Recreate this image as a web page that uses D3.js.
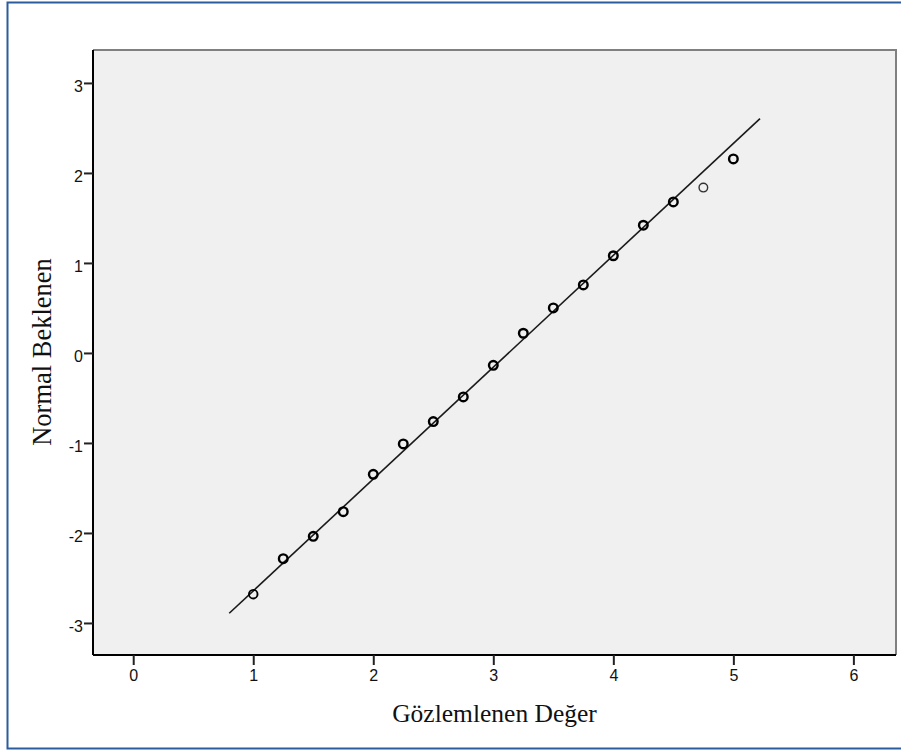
<!DOCTYPE html>
<html>
<head>
<meta charset="utf-8">
<script src="https://cdn.jsdelivr.net/npm/d3@7"></script>
<style>
  html, body { margin: 0; padding: 0; background: #ffffff; }
  svg { display: block; }
</style>
</head>
<body>
<svg id="chart" width="901" height="753"></svg>
<script>
// Observed values and their expected normal scores
const observed = [1, 1.25, 1.5, 1.75, 2, 2.25, 2.5, 2.75, 3, 3.25, 3.5, 3.75, 4, 4.25, 4.5, 4.75, 5];
const expected = [-2.68, -2.286, -2.037, -1.763, -1.348, -1.011, -0.763, -0.489, -0.137, 0.219, 0.5, 0.756, 1.08, 1.419, 1.678, 1.837, 2.156];
// Number of cases stacked on each point
const caseCount = [2, 3, 3, 3, 3, 3, 3, 3, 3, 3, 3, 3, 3, 3, 3, 1, 3];

// Reference line endpoints
const lineX = [0.8, 5.222];
const lineY = [-2.892, 2.603];

const xTicks = [0, 1, 2, 3, 4, 5, 6];
const yTicks = [-3, -2, -1, 0, 1, 2, 3];

const xTitle = "Gözlemlenen Değer";
const yTitle = "Normal Beklenen";

const svg = d3.select("#chart");
const plot = { left: 93, top: 50, right: 896, bottom: 655 };

const x = d3.scaleLinear().domain([-0.335, 6.355]).range([plot.left, plot.right]);
const y = d3.scaleLinear().domain([-3.356, 3.366]).range([plot.bottom, plot.top]);

// Outer frame
svg.append("rect")
  .attr("x", 7.5).attr("y", 2.5)
  .attr("width", 910).attr("height", 746)
  .attr("fill", "none")
  .attr("stroke", "#2c5c9c")
  .attr("stroke-width", 2);

// Plot background
svg.append("rect")
  .attr("x", plot.left).attr("y", plot.top)
  .attr("width", plot.right - plot.left).attr("height", plot.bottom - plot.top)
  .attr("fill", "#f0f0f0");

// Top and right frame edges
svg.append("path")
  .attr("d", `M${plot.left},${plot.top} H${plot.right} V${plot.bottom}`)
  .attr("fill", "none")
  .attr("stroke", "#808080")
  .attr("stroke-width", 2);

// Axes (plain hyphen for negative labels)
const fmt = d => String(d);
const xAxis = d3.axisBottom(x).tickValues(xTicks).tickSize(10).tickSizeOuter(0).tickFormat(fmt);
const yAxis = d3.axisLeft(y).tickValues(yTicks).tickSize(9).tickSizeOuter(0).tickFormat(fmt);

const gx = svg.append("g").attr("transform", `translate(0,${plot.bottom})`).call(xAxis);
const gy = svg.append("g").attr("transform", `translate(${plot.left},0)`).call(yAxis);

[gx, gy].forEach(g => {
  g.select(".domain").attr("stroke", "#000").attr("stroke-width", 2);
  g.selectAll(".tick line").attr("stroke", "#222").attr("stroke-width", 2);
  g.selectAll(".tick text")
    .attr("fill", "#111")
    .style("font-family", "'Liberation Sans', Arial, sans-serif")
    .style("font-size", "16px");
});
gx.select(".domain").attr("d", `M${plot.left},0H${plot.right}`);
gy.select(".domain").attr("d", `M0,${plot.top}V${plot.bottom}`);
gx.selectAll(".tick text").attr("dy", "0.71em").attr("y", 15);
gy.selectAll(".tick text").attr("x", -10).attr("dy", "0.52em");

// Reference line
svg.append("line")
  .attr("x1", x(lineX[0])).attr("y1", y(lineY[0]))
  .attr("x2", x(lineX[1])).attr("y2", y(lineY[1]))
  .attr("stroke", "#1a1a1a")
  .attr("stroke-width", 1.6);

// Points: heavier rings where several cases coincide
const ringWidth = n => n >= 3 ? 2.4 : n === 2 ? 1.9 : 1.4;
const pts = observed.map((v, i) => ({ v, e: expected[i], n: caseCount[i] }));
svg.append("g").selectAll("circle")
  .data(pts)
  .join("circle")
  .attr("cx", d => x(d.v))
  .attr("cy", d => y(d.e))
  .attr("r", 4.3)
  .attr("fill", "none")
  .attr("stroke", d => d.n > 1 ? "#000" : "#333")
  .attr("stroke-width", d => ringWidth(d.n));

// Axis titles
svg.append("text")
  .attr("x", 494.5)
  .attr("y", 722)
  .attr("text-anchor", "middle")
  .style("font-family", "'Liberation Serif', 'Times New Roman', serif")
  .style("font-size", "25.5px")
  .attr("fill", "#111")
  .text(xTitle);

svg.append("text")
  .attr("transform", `translate(51,352) rotate(-90)`)
  .attr("text-anchor", "middle")
  .style("font-family", "'Liberation Serif', 'Times New Roman', serif")
  .style("font-size", "26.5px")
  .attr("fill", "#111")
  .text(yTitle);
</script>
</body>
</html>
